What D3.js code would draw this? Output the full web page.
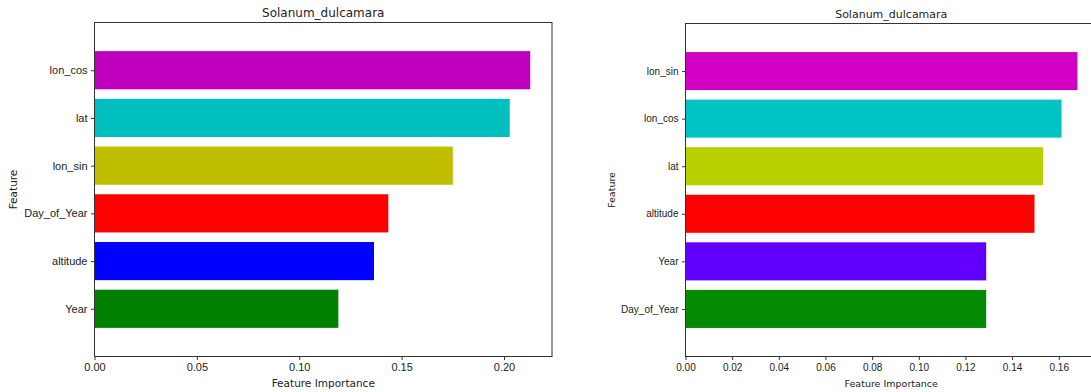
<!DOCTYPE html>
<html>
<head>
<meta charset="utf-8">
<script src="https://cdn.jsdelivr.net/npm/d3@7"></script>
<style>
  html, body { margin: 0; padding: 0; background: #fff; overflow: hidden; }
  svg { display: block; font-family: "DejaVu Sans", sans-serif; }
</style>
</head>
<body>
<svg id="chart" width="1091" height="392"></svg>
<script>
// Feature importances, listed bottom-to-top as drawn
const leftFeatures = ["Year", "altitude", "Day_of_Year", "lon_sin", "lat", "lon_cos"];
const leftValues   = [0.1191, 0.1365, 0.1435, 0.1750, 0.2028, 0.2128];
const leftColors   = ["#008000", "#0000ff", "#ff0000", "#bfbf00", "#00bfbf", "#bf00bf"];
const leftTicks    = [0.00, 0.05, 0.10, 0.15, 0.20];

const rightFeatures = ["Day_of_Year", "Year", "altitude", "lat", "lon_cos", "lon_sin"];
const rightValues   = [0.1289, 0.1289, 0.1496, 0.1533, 0.1612, 0.1680];
const rightColors   = ["#038c03", "#6200ff", "#ff0000", "#b8d000", "#00c4c4", "#d200c2"];
const rightTicks    = [0.00, 0.02, 0.04, 0.06, 0.08, 0.10, 0.12, 0.14, 0.16];

const titleText = "Solanum_dulcamara";

const svg = d3.select("#chart");

function drawPanel(cfg) {
  const { left, top, width, height, features, values, colors, ticks,
          tickFont, titleFont, labelFont, yLabelX } = cfg;
  const g = svg.append("g").attr("transform", `translate(${left},${top})`);

  const xMax = d3.max(values) * 1.05;
  const x = d3.scaleLinear().domain([0, xMax]).range([0, width]);
  const y = d3.scaleLinear().domain([-1, features.length]).range([height, 0]);
  const barH = y(0) - y(0.8);

  g.selectAll("rect.bar")
    .data(values)
    .join("rect")
    .attr("class", "bar")
    .attr("x", x(0))
    .attr("y", (d, i) => y(i + 0.4))
    .attr("width", d => x(d) - x(0))
    .attr("height", barH)
    .attr("fill", (d, i) => colors[i]);

  // frame
  const spine = "#333";
  g.append("rect")
    .attr("x", 0).attr("y", 0)
    .attr("width", width).attr("height", height)
    .attr("fill", "none").attr("stroke", spine).attr("stroke-width", 1);

  // x axis
  const xAxis = d3.axisBottom(x).tickValues(ticks).tickFormat(d3.format(".2f"))
    .tickSize(3.5).tickPadding(3.5);
  const gx = g.append("g").attr("transform", `translate(0,${height})`).call(xAxis);
  gx.select(".domain").remove();
  gx.selectAll("line").attr("stroke", spine);
  gx.selectAll("text").attr("fill", "#222").style("font-size", tickFont + "px");

  // y axis
  const yAxis = d3.axisLeft(y).tickValues(d3.range(features.length))
    .tickFormat(i => features[i]).tickSize(3.5).tickPadding(3.5);
  const gy = g.append("g").call(yAxis);
  gy.select(".domain").remove();
  gy.selectAll("line").attr("stroke", spine);
  gy.selectAll("text").attr("fill", "#222").style("font-size", tickFont + "px");

  // title
  g.append("text")
    .attr("x", width / 2).attr("y", -6)
    .attr("text-anchor", "middle")
    .attr("fill", "#222")
    .style("font-size", titleFont + "px")
    .text(titleText);

  // axis labels
  g.append("text")
    .attr("x", width / 2).attr("y", height + 30)
    .attr("text-anchor", "middle")
    .attr("fill", "#222")
    .style("font-size", labelFont + "px")
    .text("Feature Importance");

  g.append("text")
    .attr("transform", `translate(${yLabelX - left},${height / 2}) rotate(-90)`)
    .attr("text-anchor", "middle")
    .attr("fill", "#222")
    .style("font-size", labelFont + "px")
    .text("Feature");
}

drawPanel({
  left: 94.5, top: 22.5, width: 457.5, height: 334,
  features: leftFeatures, values: leftValues, colors: leftColors, ticks: leftTicks,
  tickFont: 11, titleFont: 12, labelFont: 10.5, yLabelX: 17
});

drawPanel({
  left: 685.5, top: 23.5, width: 411.5, height: 333,
  features: rightFeatures, values: rightValues, colors: rightColors, ticks: rightTicks,
  tickFont: 10, titleFont: 11, labelFont: 9.5, yLabelX: 615
});
</script>
</body>
</html>
